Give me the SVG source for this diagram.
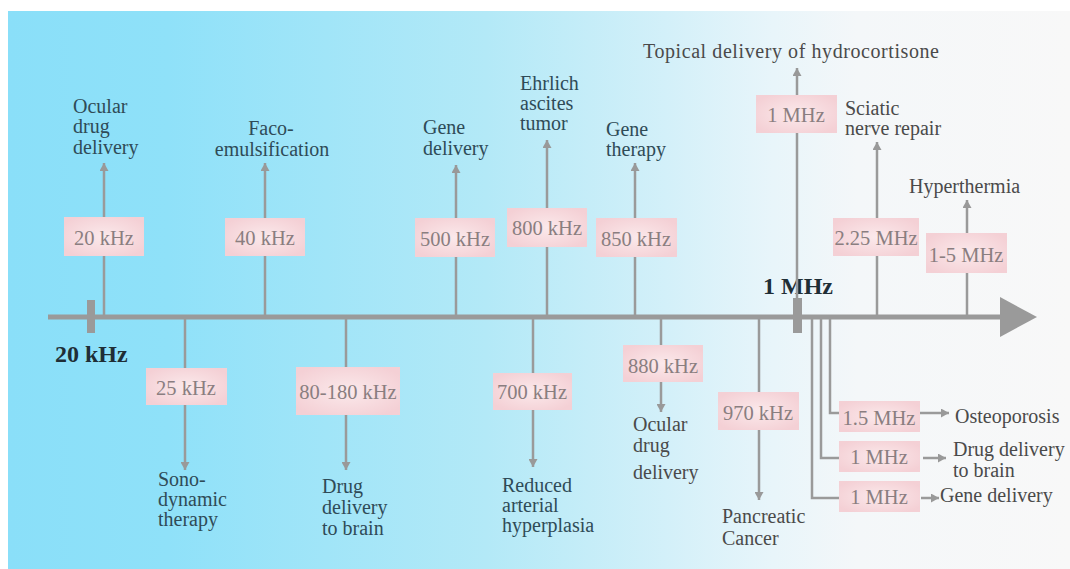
<svg xmlns="http://www.w3.org/2000/svg" width="1070" height="569" viewBox="0 0 1070 569">
<defs>
<linearGradient id="bg" x1="8" y1="0" x2="1070" y2="0" gradientUnits="userSpaceOnUse">
<stop offset="0" stop-color="#8adff9"/>
<stop offset="0.15" stop-color="#8fe1f9"/>
<stop offset="0.45" stop-color="#b3e9f7"/>
<stop offset="0.62" stop-color="#d3f0f9"/>
<stop offset="0.72" stop-color="#e8f5fa"/>
<stop offset="0.8" stop-color="#f4f7f9"/>
<stop offset="1" stop-color="#f8f8f8"/>
</linearGradient>
<radialGradient id="pink" cx="0.5" cy="0.5" r="0.6">
<stop offset="0" stop-color="#fbe9eb"/>
<stop offset="1" stop-color="#f4d0d5"/>
</radialGradient>
<marker id="ah" markerUnits="userSpaceOnUse" markerWidth="9" markerHeight="9" refX="8" refY="4.5" orient="auto">
<path d="M0,0 L8,4.5 L0,9 z" fill="#999"/>
</marker>
<style>
.ln{stroke:#9a9a9a;stroke-width:2.5;fill:none}
.box{fill:url(#pink)}
.bt{font-family:"Liberation Serif",serif;font-size:20.5px;fill:#8a7e80;text-anchor:middle}
.lb{font-family:"Liberation Serif",serif;font-size:20px;fill:#2f4b57}
.lg{font-family:"Liberation Serif",serif;font-size:20px;fill:#4a4a4a}
.ax{font-family:"Liberation Serif",serif;font-size:24px;font-weight:bold;fill:#1f2e36}
</style>
</defs>
<rect x="0" y="0" width="1070" height="569" fill="#ffffff"/>
<rect x="8" y="11" width="1062" height="558" fill="url(#bg)"/>

<g id="axis">
<line x1="48" y1="317" x2="1002" y2="317" stroke="#9a9a9a" stroke-width="5"/>
<polygon points="1000,297 1037,317 1000,337" fill="#9a9a9a"/>
<rect x="87" y="300" width="8" height="33" fill="#9a9a9a"/>
<rect x="793" y="298" width="9" height="35" fill="#9a9a9a"/>
<text class="ax" x="55" y="362">20 kHz</text>
<text class="ax" x="763" y="294">1 MHz</text>
</g>

<g id="connectors">
<line class="ln" x1="104" y1="317" x2="104" y2="163" marker-end="url(#ah)"/>
<line class="ln" x1="265" y1="317" x2="265" y2="163" marker-end="url(#ah)"/>
<line class="ln" x1="456" y1="317" x2="456" y2="165" marker-end="url(#ah)"/>
<line class="ln" x1="547" y1="317" x2="547" y2="140" marker-end="url(#ah)"/>
<line class="ln" x1="635" y1="317" x2="635" y2="163" marker-end="url(#ah)"/>
<line class="ln" x1="797" y1="317" x2="797" y2="68" marker-end="url(#ah)"/>
<line class="ln" x1="877" y1="317" x2="877" y2="142" marker-end="url(#ah)"/>
<line class="ln" x1="967" y1="317" x2="967" y2="200" marker-end="url(#ah)"/>
<line class="ln" x1="185" y1="317" x2="185" y2="470" marker-end="url(#ah)"/>
<line class="ln" x1="346" y1="317" x2="346" y2="470" marker-end="url(#ah)"/>
<line class="ln" x1="533" y1="317" x2="533" y2="467" marker-end="url(#ah)"/>
<line class="ln" x1="661" y1="317" x2="661" y2="412" marker-end="url(#ah)"/>
<line class="ln" x1="759" y1="317" x2="759" y2="500" marker-end="url(#ah)"/>
<path class="ln" d="M830,317 V413 H840"/>
<path class="ln" d="M821,317 V458 H840"/>
<path class="ln" d="M812,317 V498 H840"/>
<line class="ln" x1="920" y1="413" x2="949" y2="413" marker-end="url(#ah)"/>
<line class="ln" x1="923" y1="458" x2="946" y2="458" marker-end="url(#ah)"/>
<line class="ln" x1="921" y1="498" x2="939" y2="498" marker-end="url(#ah)"/>
</g>

<g id="n20k"><rect class="box" x="64" y="217" width="80" height="39"/><text class="bt" x="104" y="245">20 kHz</text>
<text class="lb" x="73" y="113">Ocular</text><text class="lb" x="73" y="133">drug</text><text class="lb" x="73" y="154">delivery</text></g>

<g id="n40k"><rect class="box" x="225" y="218" width="80" height="38"/><text class="bt" x="265" y="245">40 kHz</text>
<text class="lb" x="271" y="135" text-anchor="middle">Faco-</text><text class="lb" x="272" y="156" text-anchor="middle">emulsification</text></g>

<g id="n500k"><rect class="box" x="415" y="218" width="80" height="39"/><text class="bt" x="455" y="246">500 kHz</text>
<text class="lb" x="423" y="134">Gene</text><text class="lb" x="423" y="155">delivery</text></g>

<g id="n800k"><rect class="box" x="507" y="208" width="80" height="39"/><text class="bt" x="547" y="235">800 kHz</text>
<text class="lb" x="520" y="90">Ehrlich</text><text class="lb" x="520" y="110">ascites</text><text class="lb" x="520" y="130">tumor</text></g>

<g id="n850k"><rect class="box" x="596" y="218" width="81" height="39"/><text class="bt" x="636" y="246">850 kHz</text>
<text class="lb" x="606" y="136">Gene</text><text class="lb" x="606" y="156">therapy</text></g>

<g id="n1mtop"><rect class="box" x="756" y="95" width="81" height="38"/><text class="bt" x="796" y="122">1 MHz</text>
<text class="lg" x="643" y="58" textLength="296">Topical delivery of hydrocortisone</text></g>

<g id="n225m"><rect class="box" x="833" y="218" width="86" height="38"/><text class="bt" x="876" y="245">2.25 MHz</text>
<text class="lg" x="845" y="115">Sciatic</text><text class="lg" x="845" y="135">nerve repair</text></g>

<g id="n15m"><rect class="box" x="926" y="233" width="81" height="40"/><text class="bt" x="966" y="262">1-5 MHz</text>
<text class="lg" x="909" y="193">Hyperthermia</text></g>

<g id="n25k"><rect class="box" x="146" y="368" width="81" height="37"/><text class="bt" x="186" y="395">25 kHz</text>
<text class="lb" x="158" y="486">Sono-</text><text class="lb" x="158" y="506">dynamic</text><text class="lb" x="158" y="526">therapy</text></g>

<g id="n80k"><rect class="box" x="296" y="367" width="104" height="48"/><text class="bt" x="348" y="399">80-180 kHz</text>
<text class="lb" x="322" y="493">Drug</text><text class="lb" x="322" y="514">delivery</text><text class="lb" x="322" y="535">to brain</text></g>

<g id="n700k"><rect class="box" x="493" y="373" width="79" height="37"/><text class="bt" x="532" y="399">700 kHz</text>
<text class="lb" x="502" y="492">Reduced</text><text class="lb" x="502" y="512">arterial</text><text class="lb" x="502" y="532">hyperplasia</text></g>

<g id="n880k"><rect class="box" x="623" y="345" width="80" height="37"/><text class="bt" x="663" y="373">880 kHz</text>
<text class="lg" x="633" y="431">Ocular</text><text class="lg" x="633" y="452">drug</text><text class="lg" x="633" y="479">delivery</text></g>

<g id="n970k"><rect class="box" x="718" y="392" width="81" height="38"/><text class="bt" x="758" y="420">970 kHz</text>
<text class="lg" x="722" y="523">Pancreatic</text><text class="lg" x="722" y="545">Cancer</text></g>

<g id="n15mhz"><rect class="box" x="839" y="401" width="81" height="31"/><text class="bt" x="879" y="425">1.5 MHz</text>
<text class="lg" x="955" y="423">Osteoporosis</text></g>

<g id="n1mbrain"><rect class="box" x="839" y="441" width="81" height="31"/><text class="bt" x="879" y="464">1 MHz</text>
<text class="lg" x="953" y="456">Drug delivery</text><text class="lg" x="953" y="477">to brain</text></g>

<g id="n1mgene"><rect class="box" x="839" y="481" width="81" height="31"/><text class="bt" x="879" y="504">1 MHz</text>
<text class="lg" x="940" y="502">Gene delivery</text></g>
</svg>
